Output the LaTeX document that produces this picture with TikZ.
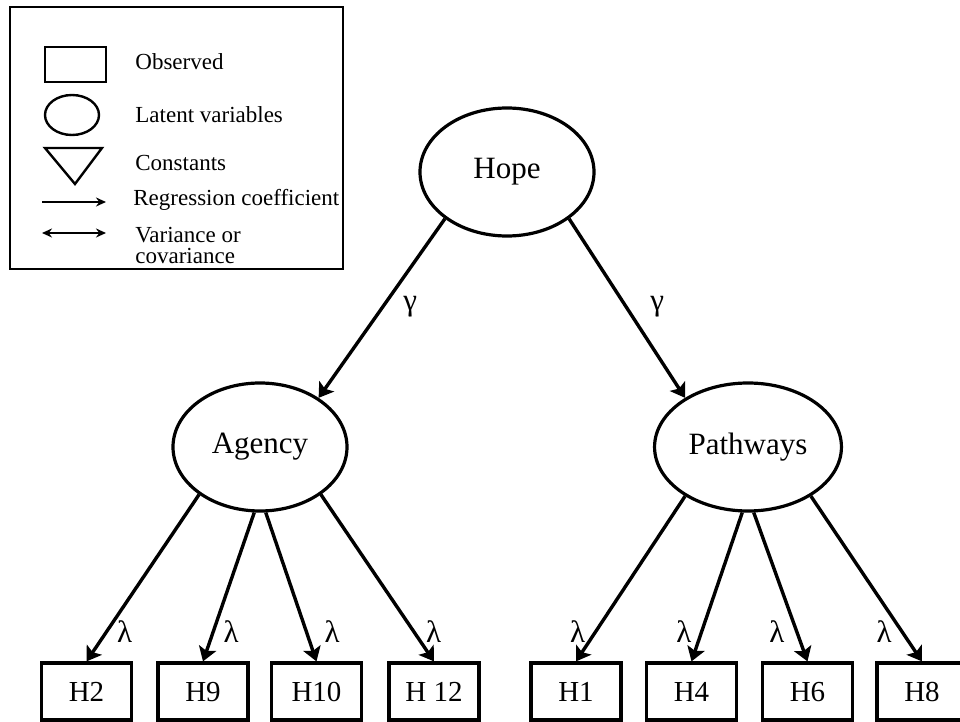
\documentclass[tikz,border=0pt]{standalone}
\usepackage{fontspec}
\setmainfont{Liberation Serif}
\usetikzlibrary{shapes,arrows,arrows.meta}

\begin{document}
\begin{tikzpicture}[x=0.5pt,y=-0.5pt,
  latent/.style={ellipse,draw,line width=1.6pt,minimum width=87pt,minimum height=64pt,font=\fontsize{15.5}{18}\selectfont},
  observed/.style={rectangle,draw,line width=1.6pt,minimum width=45pt,minimum height=28.5pt,text height=10pt,text depth=0pt,font=\fontsize{14.5}{17}\selectfont},
  regarrow/.style={-{Stealth[length=7pt,width=9pt,inset=1.5pt]},line width=1.7pt},
  coef/.style={font=\fontsize{15.5}{18}\selectfont},
  legtext/.style={anchor=west,inner sep=0pt,font=\fontsize{11.5}{10.5}\selectfont}]

\useasboundingbox (0,0) rectangle (960,722);

% to draw the legend
\draw [line width=0.8pt] (10,7) rectangle (343,269);
\draw [line width=1.2pt] (45,47) rectangle (106,82);
\draw [line width=1.2pt] (72,115) ellipse (13.5pt and 10pt);
\draw [line width=1.2pt] (45,148) -- (102,148) -- (75,184) -- cycle;
\draw [-{Stealth[length=5pt,width=4.5pt]},line width=0.9pt] (42,202) -- (106,202);
\draw [{Stealth[length=5pt,width=4.5pt]}-{Stealth[length=5pt,width=4.5pt]},line width=0.9pt] (42,233) -- (106,233);
\node [legtext] (lobs) at (135,62) {Observed};
\node [legtext] (llat) at (135,115) {Latent variables};
\node [legtext] (lcon) at (135,163) {Constants};
\node [legtext] (lreg) at (133,200) {Regression coefficient};
\node [legtext,align=left] (lvar) at (135,245) {Variance or\\covariance};

% to draw latent variables
\node [latent] (hope) at (507,172) {Hope};
\node [latent] (agency) at (260,447) {Agency};
\node [latent] (pathways) at (748,447) {Pathways};

% to draw observed items
\node [observed] (h2) at (86.5,691.5) {H2};
\node [observed] (h9) at (203,691.5) {H9};
\node [observed] (h10) at (316.5,691.5) {H10};
\node [observed] (h12) at (434,691.5) {H 12};
\node [observed] (h1) at (576,691.5) {H1};
\node [observed] (h4) at (691.5,691.5) {H4};
\node [observed] (h6) at (807.5,691.5) {H6};
\node [observed] (h8) at (922,691.5) {H8};

% to draw arrows with text
\draw [regarrow] (hope.-143) -- (agency.40) node[coef,pos=0.49,right=6pt] (g1) {γ};
\draw [regarrow] (hope.-37) -- (pathways.142) node[coef,pos=0.49,right=8pt] (g2) {γ};

\draw [regarrow] (agency.-142) -- (h2.north) node[coef,pos=0.82,right=1pt] (l2) {λ};
\draw [regarrow] (agency.-95) -- (h9.north) node[coef,pos=0.8,right=1pt] (l9) {λ};
\draw [regarrow] (agency.-85) -- (h10.north) node[coef,pos=0.8,right=5pt] (l10) {λ};
\draw [regarrow] (agency.-38) -- (h12.north) node[coef,pos=0.82,right=2pt] (l12) {λ};

\draw [regarrow] (pathways.-142) -- (h1.north) node[coef,pos=0.82,left=1pt] (l1) {λ};
\draw [regarrow] (pathways.-95) -- (h4.north) node[coef,pos=0.8,left=1pt] (l4) {λ};
\draw [regarrow] (pathways.-85) -- (h6.north) node[coef,pos=0.8,left=2pt] (l6) {λ};
\draw [regarrow] (pathways.-38) -- (h8.north) node[coef,pos=0.82,left=1pt] (l8) {λ};
\end{tikzpicture}
\end{document}
